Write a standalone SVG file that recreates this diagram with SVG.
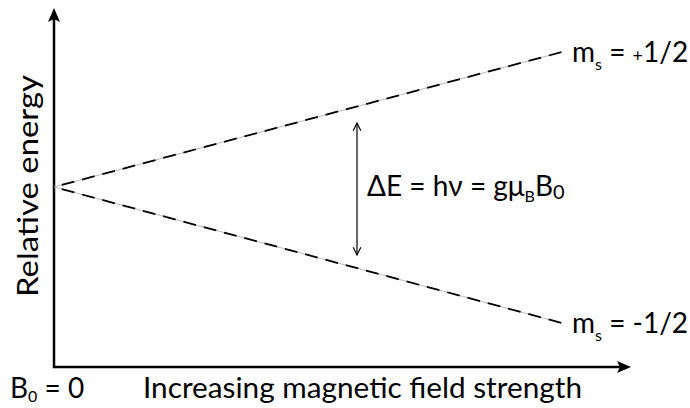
<svg xmlns="http://www.w3.org/2000/svg" width="690" height="408" viewBox="0 0 690 408">
<style>
text{font-family:Lato,"Open Sans","DejaVu Sans",sans-serif;fill:#000}
.lbl{font-size:28px}
.sub{font-size:16px}
.axis{stroke:#000;stroke-width:2.5;fill:none}
.guide{stroke:#aaa;stroke-width:0.8;fill:none}
.dash{stroke:#000;stroke-width:1.8;stroke-dasharray:13 8;stroke-dashoffset:-8;fill:none}
.arr{stroke:#000;stroke-width:1.2;fill:none}
</style>
<defs>
<marker id="oh" viewBox="0 0 10 10" refX="9" refY="5" markerWidth="8" markerHeight="8" orient="auto-start-reverse"><path d="M1,1 L9,5 L1,9" fill="none" stroke="#000" stroke-width="1.2"/></marker>
</defs>
<g id="axes">
<path class="axis" d="M54,14 V367 H625" />
<path d="M54,8 L48,22 L54,19 L60,22 Z" fill="#000"/>
<path d="M631,367 L617,361 L620,367 L617,373 Z" fill="#000"/>
</g>
<g id="connectors">
<path class="guide" d="M54,187 L562,52"/>
<path class="guide" d="M54,187 L562,323"/>
<path class="dash" d="M54,187 L562,52"/>
<path class="dash" d="M54,187 L562,323"/>
<path class="arr" d="M357,123 V255" marker-start="url(#oh)" marker-end="url(#oh)"/>
</g>
<g id="ylabel"><text class="lbl" transform="translate(38,186) rotate(-90)" text-anchor="middle" textLength="222" lengthAdjust="spacingAndGlyphs">Relative energy</text></g>
<g id="xlabel"><text class="lbl" x="143" y="398" textLength="439" lengthAdjust="spacingAndGlyphs">Increasing magnetic field strength</text></g>
<g id="b0"><text class="lbl" x="10" y="398">B<tspan class="sub" dy="4">0</tspan><tspan dy="-4"> = 0</tspan></text></g>
<g id="delta"><text class="lbl" x="367" y="196">ΔE = hν = gμ<tspan class="sub" dy="6">B</tspan><tspan dy="-6">B</tspan><tspan font-size="20" dy="3">0</tspan></text></g>
<g id="plus"><text class="lbl" x="572" y="62">m<tspan class="sub" dy="8">s</tspan><tspan dy="-8"> = </tspan><tspan font-size="18">+</tspan>1/2</text></g>
<g id="minus"><text class="lbl" x="572" y="333">m<tspan class="sub" dy="8">s</tspan><tspan dy="-8"> = -1/2</tspan></text></g>
</svg>
